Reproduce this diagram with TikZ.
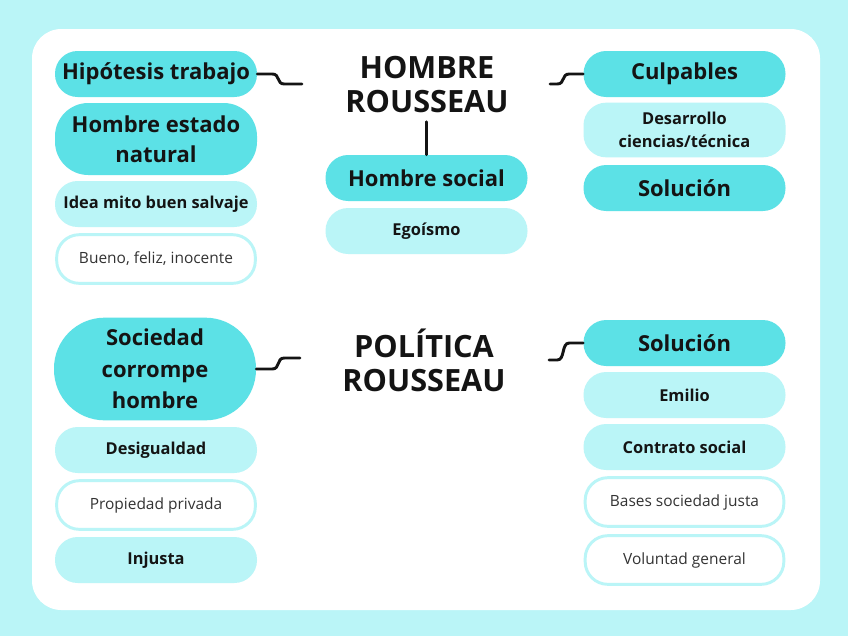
\documentclass[tikz,border=0pt]{standalone}
\usepackage{fontspec}
\setmainfont{Open Sans}
\usetikzlibrary{positioning}
\definecolor{pagecolor}{RGB}{186,245,247}
\definecolor{darkcyan}{RGB}{92,225,230}
\definecolor{lightcyan}{RGB}{186,245,247}
\definecolor{inkcolor}{RGB}{20,20,20}

\tikzset{
  box/.style={rectangle, rounded corners=17pt, minimum width=151.5pt, minimum height=34.5pt, align=center, text=inkcolor, inner sep=2pt},
  mainbox/.style={box, fill=darkcyan, font=\bfseries\fontsize{16.5}{22.5}\selectfont},
  subbox/.style={box, fill=lightcyan, font=\bfseries\fontsize{12.3}{17}\selectfont},
  plainbox/.style={box, fill=white, draw=lightcyan, line width=2.2pt, minimum width=149pt, minimum height=36.5pt, font=\fontsize{11.6}{14}\selectfont, text=black!80},
  title/.style={align=center, font=\bfseries\fontsize{23}{25.5}\selectfont, text=inkcolor},
  link/.style={line width=2.2pt, inkcolor, line cap=round},
}

\begin{document}
\begin{tikzpicture}[x=0.75pt, y=-0.75pt]
  % Background and panel
  \fill[pagecolor] (0,0) rectangle (848,636);
  \useasboundingbox (0,0) rectangle (848,636);
  \fill[white, rounded corners=22pt] (32,29) rectangle (820,610);

  % Top map: Hombre Rousseau
  \node[title] (titleA) at (427,85) {HOMBRE\\ROUSSEAU};
  \node[mainbox] (hyp) at (156,74) {Hipótesis trabajo};
  \node[mainbox, minimum height=54pt, rounded corners=25pt] (estado) at (156,139) {Hombre estado\\natural};
  \node[subbox] (idea) at (156,204) {Idea mito buen salvaje};
  \node[plainbox] (bueno) at (156,259) {Bueno, feliz, inocente};
  \node[mainbox] (hsocial) at (426.5,178) {Hombre social};
  \node[subbox] (egoismo) at (426.5,231) {Egoísmo};
  \node[mainbox] (culp) at (684.5,74) {Culpables};
  \node[subbox, minimum height=41pt, font=\bfseries\fontsize{12.3}{17}\selectfont] (desarrollo) at (684.5,130) {Desarrollo\\ciencias/técnica};
  \node[mainbox] (solA) at (684.5,188) {Solución};

  % Bottom map: Politica Rousseau
  \node[title] (titleB) at (424,360) {POLÍTICA\\ROUSSEAU};
  \node[mainbox, minimum height=77pt, rounded corners=38pt, font=\bfseries\fontsize{16.5}{23.6}\selectfont] (sociedad) at (155,369) {Sociedad\\corrompe\\hombre};
  \node[subbox] (desig) at (156,450) {Desigualdad};
  \node[plainbox] (propiedad) at (156,505) {Propiedad privada};
  \node[subbox] (injusta) at (156,560) {Injusta};
  \node[mainbox] (solB) at (684.5,343) {Solución};
  \node[subbox] (emilio) at (684.5,395) {Emilio};
  \node[subbox] (contrato) at (684.5,447) {Contrato social};
  \node[plainbox] (bases) at (684.5,502) {Bases sociedad justa};
  \node[plainbox] (voluntad) at (684.5,560) {Voluntad general};

  % Connector ends
  \coordinate (hypEnd) at (302,84);
  \coordinate (culpEnd) at (550,84);
  \coordinate (socEnd) at (300,358);
  \coordinate (solEnd) at (549,360);

  % Draw the links
  \draw[link] (hyp.east) -- ++(15,0) .. controls +(8,0) and +(-8,0) .. ++(12,10) -- (hypEnd);
  \draw[link] (culp.west) -- ++(-14,0) .. controls +(-8,0) and +(8,0) .. ++(-12,10) -- (culpEnd);
  \draw[link] (sociedad.east) -- ++(16,0) .. controls +(8,0) and +(-8,0) .. ++(12,-11) -- (socEnd);
  \draw[link] (solB.west) -- ++(-14,0) .. controls +(-8,0) and +(8,0) .. ++(-12,17) -- (solEnd);
  \draw[link] (hsocial.north) -- ++(0,-33);
\end{tikzpicture}
\end{document}
